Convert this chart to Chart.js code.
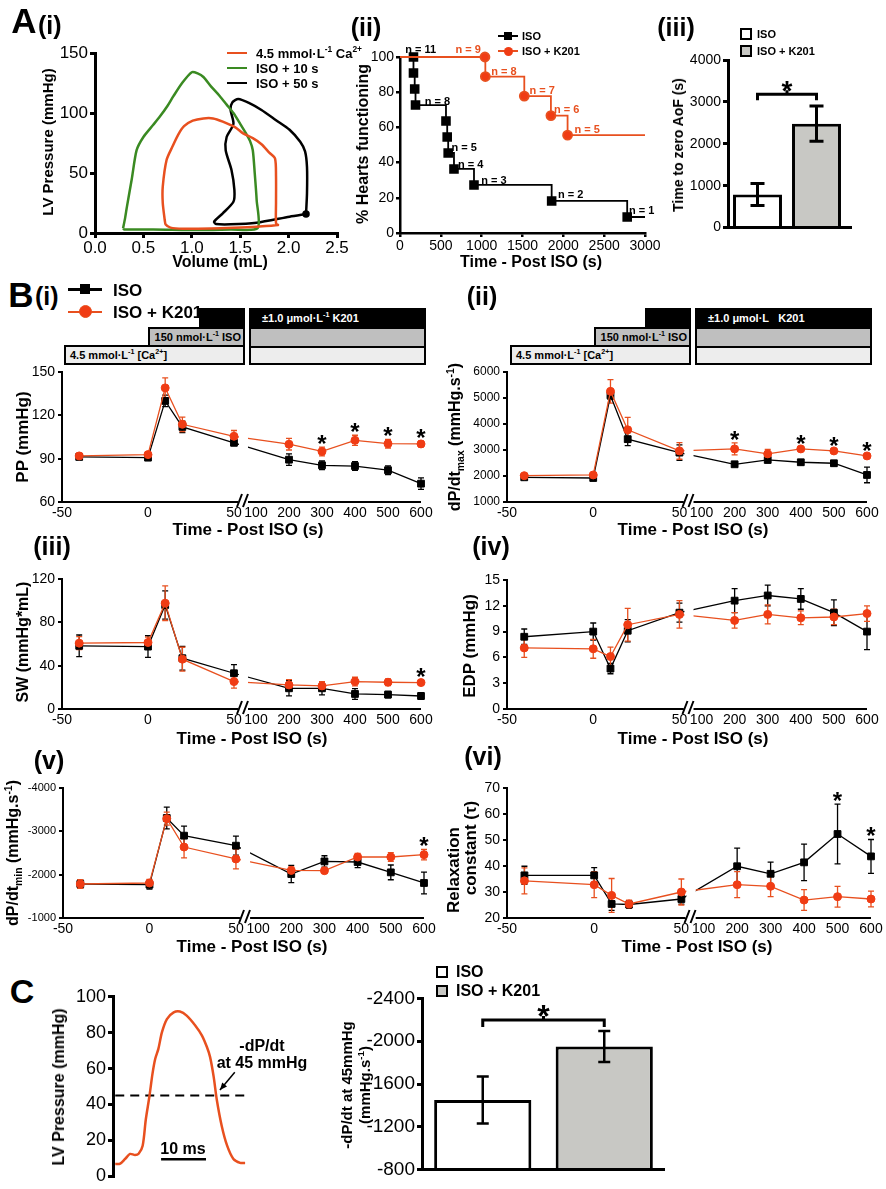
<!DOCTYPE html>
<html>
<head>
<meta charset="utf-8">
<script src="https://cdn.jsdelivr.net/npm/chart.js@4.4.1/dist/chart.umd.min.js"></script>
<style>
body{margin:0;background:#fff;}
#page{position:relative;width:886px;height:1189px;overflow:hidden;background:#fff;font-family:"Liberation Sans",Arial,sans-serif;color:#000;}
#page canvas{position:absolute;}
.t{position:absolute;font-weight:bold;white-space:nowrap;line-height:1;}
.box{position:absolute;box-sizing:border-box;border:2px solid #000;font-weight:bold;font-size:11px;line-height:1;white-space:nowrap;display:flex;align-items:center;}
.sw{position:absolute;box-sizing:border-box;}
sup,sub{font-size:65%;line-height:0;}
</style>
</head>
<body>
<div id="page"></div>
<script>
const FONT = '"Liberation Sans", Arial, sans-serif';
const RED = '#e8501f', RED_PT = '#f03c14', GREEN = '#3a8a22', GREY = '#c8c8c4';

// ---- A(i) pressure-volume loops (mL, mmHg)
const LOOP_CA_VOL = [0.72,0.70,0.70,0.74,0.80,0.86,0.92,1.01,1.12,1.22,1.32,1.45,1.53,1.63,1.72,1.80,1.86,1.87,1.87,1.87,1.89,1.67,1.43,1.20,0.91,0.78,0.73,0.72];
const LOOP_CA_P   = [11,25,38.6,61,72,82,89,93.6,95.5,95.5,92.8,88,83,79,74,67,62,47,25,8,6.7,5.3,4.4,3.8,3.6,4.5,7,11];
const LOOP_10_VOL = [0.29,0.31,0.33,0.38,0.43,0.50,0.60,0.67,0.75,0.81,0.90,1.00,1.06,1.12,1.20,1.29,1.36,1.43,1.50,1.56,1.60,1.63,1.65,1.67,1.68,1.40,1.08,0.60,0.30,0.29];
const LOOP_10_P   = [3.9,12,22,45,69,80,90,97,106,114,125,134,133,130,122,114,107,100,91,83,77,69,50,27.5,4,3,2.5,3,3,3.9];
const LOOP_50_VOL = [2.18,2.01,1.67,1.40,1.25,1.23,1.32,1.43,1.44,1.41,1.35,1.36,1.43,1.40,1.42,1.48,1.60,1.72,1.87,2.01,2.12,2.17,2.19,2.19,2.18];
const LOOP_50_P   = [15.8,13.6,8.6,7.2,7.5,9.4,16.4,26,36,52.5,69,80,91,103,109,111.7,108,102.5,94,86,76,68,55,33,15.8];

// ---- A(ii) Kaplan-Meier
const KM_ISO_T   = [0,165,165,180,190,563,578,590,661,906,1857,2782,3000];
const KM_ISO_PCT = [100,100,90.9,81.8,72.7,63.6,54.5,45.5,36.4,27.3,18.2,9.1,9.1];
const KM_K201_T   = [0,1040,1045,1522,1848,2052,3000];
const KM_K201_PCT = [100,100,88.9,77.8,66.7,55.6,55.6];
const KM_ISO_N    = ['n = 11','n = 8','n = 5','n = 4','n = 3','n = 2','n = 1'];
const KM_ISO_N_AT = [[253,104.5],[457,75.2],[787,48.7],[866,39.2],[1151,30.1],[2090,22.2],[2960,13.1]];
const KM_K201_N    = ['n = 9','n = 8','n = 7','n = 6','n = 5'];
const KM_K201_N_AT = [[836,104.5],[1273,92],[1742,81.3],[2041,70.5],[2293,58.9]];

// ---- A(iii) time to zero aortic flow
const GROUPS = ['ISO', 'ISO + K201'];
const AOF_MEAN = [790, 2480];
const AOF_SEM = [260, 420];

// ---- B time courses
const TIME = [-40, 0, 10, 20, 50, 200, 300, 400, 500, 600];
const X_TICKS = [-50, 0, 50, 100, 200, 300, 400, 500, 600];

const PP_ISO = [91.2, 90.7, 130, 112, 101, 89.3, 85.4, 84.9, 82, 72.7];
const PP_ISO_SEM = [1.5, 1.5, 4, 4, 2, 4, 3, 3, 3, 4];
const PP_K201 = [91.9, 92.8, 139, 113.8, 105.5, 100, 95, 102.7, 100.4, 100.2];
const PP_K201_SEM = [2, 2, 7, 5, 4, 4, 3, 3.5, 3, 2];
const PP_SIG = [300, 400, 500, 600];

const DPMAX_ISO = [1950, 1923, 5100, 3417, 2900, 2450, 2617, 2528, 2490, 2040];
const DPMAX_ISO_SEM = [60, 60, 150, 250, 300, 80, 100, 100, 100, 300];
const DPMAX_K201 = [2012, 2040, 5255, 3776, 2965, 3042, 2850, 3042, 2965, 2772];
const DPMAX_K201_SEM = [60, 60, 450, 480, 320, 230, 170, 80, 80, 80];
const DPMAX_SIG = [200, 400, 500, 600];

const SW_ISO = [58.3, 57.6, 96, 46.9, 33, 19.1, 19.1, 13.9, 13.3, 12];
const SW_ISO_SEM = [10, 10, 13, 11, 8, 7, 6, 5, 3, 3];
const SW_K201 = [60.8, 61.4, 97.7, 46, 25.3, 22.2, 21.3, 25.3, 24.7, 24.4];
const SW_K201_SEM = [6, 5, 16, 11, 6, 5, 4, 4, 3, 2];
const SW_SIG = [600];

const EDP_ISO = [8.4, 9.0, 4.7, 9.1, 11.2, 12.6, 13.2, 12.8, 11.2, 9.0];
const EDP_ISO_SEM = [0.9, 1.0, 0.6, 1.3, 1.1, 1.4, 1.2, 1.2, 1.5, 2.1];
const EDP_K201 = [7.1, 7.0, 6.1, 9.8, 11.0, 10.3, 11.0, 10.6, 10.7, 11.1];
const EDP_K201_SEM = [1.1, 1.1, 1.1, 1.9, 1.6, 0.9, 1.1, 0.8, 0.9, 0.9];

const DPMIN_ISO = [-1785, -1769, -3308, -2900, -2669, -2015, -2306, -2292, -2053, -1808];
const DPMIN_ISO_SEM = [100, 100, 250, 220, 220, 200, 130, 130, 170, 250];
const DPMIN_K201 = [-1785, -1808, -3292, -2638, -2362, -2099, -2092, -2408, -2408, -2461];
const DPMIN_K201_SEM = [100, 80, 150, 250, 230, 80, 50, 80, 100, 120];
const DPMIN_SIG = [600];

const TAU_ISO = [36.4, 36.4, 25.4, 25.2, 27.3, 39.9, 37, 41.4, 52.3, 43.7];
const TAU_ISO_SEM = [3.5, 3, 2.5, 1.5, 2, 7, 4.5, 7, 11.5, 6.5];
const TAU_K201 = [34.3, 32.8, 28.7, 25.4, 30, 32.8, 32.2, 26.9, 28.2, 27.3];
const TAU_K201_SEM = [5, 5, 6.5, 1.5, 5, 5, 4, 4, 4, 3];
const TAU_SIG = [500, 600];

// ---- C
const C_MS   = [0,1.1,2.2,3.3,4.4,5.2,6.1,6.8,7.6,8.3,8.9,9.6,10.4,11.5,13,14.4,15.9,17.8,19.3,20.4,21.1,21.9,22.6,23.7,24.9,26.3,27.8,28.9];
const C_MMHG = [6.8,7.0,9.6,12.4,11.8,12.5,17,31.6,44.4,57.3,65.5,71,80.3,87.6,91.3,91.8,89.5,84,78.4,72,66.5,55.5,42.6,28,17,9.6,7.4,7.4];
const THRESHOLD = 45;
const DPDT45_MEAN = [-1450, -1950];
const DPDT45_SEM = [220, 145];

Chart.defaults.font.family = FONT;
Chart.defaults.color = '#000';
Chart.defaults.animation = false;
Chart.defaults.responsive = false;
Chart.defaults.plugins.legend.display = false;
Chart.defaults.plugins.tooltip.enabled = false;

const page = document.getElementById('page');

// broken time axis: -50..50 linear, then 100..600 compressed
const GAP = 12.8, RS = 0.1919;
function u(t) { return t <= 50 ? t : 50 + GAP + (t - 100) * RS; }

function txt(html, x, y, fs, o = {}) {
  const d = document.createElement('div');
  d.className = 't';
  d.innerHTML = html;
  d.style.fontSize = fs + 'px';
  d.style.left = x + 'px';
  d.style.top = y + 'px';
  const ax = o.align === 'left' ? '0' : o.align === 'right' ? '-100%' : '-50%';
  d.style.transform = `translate(${ax},-50%)` + (o.rot ? ' rotate(-90deg)' : '');
  if (o.color) d.style.color = o.color;
  page.appendChild(d);
}

function place(area, pad) {
  const c = document.createElement('canvas');
  c.width = area.r - area.l + pad.l + pad.r;
  c.height = area.b - area.t + pad.t + pad.b;
  c.style.left = (area.l - pad.l) + 'px';
  c.style.top = (area.t - pad.t) + 'px';
  page.appendChild(c);
  return c;
}

function axis(o) {
  return {
    type: 'linear', min: o.min, max: o.max, reverse: !!o.reverse,
    afterFit: s => { if (s.isHorizontal()) s.height = o.size; else s.width = o.size; },
    border: {display: o.border !== false, color: '#000', width: o.bw || 2},
    grid: {display: !!o.tick, drawOnChartArea: false, drawTicks: !!o.tick, tickLength: o.tick || 0, color: '#000', lineWidth: o.bw || 2},
    ticks: {display: o.labels !== false, font: {size: o.fs, family: FONT}, color: '#000',
      padding: o.pad == null ? 3 : o.pad, stepSize: o.step, autoSkip: false, maxRotation: 0,
      callback: o.cb || (v => String(v))}
  };
}

function drawErr(chart) {
  const ctx = chart.ctx;
  chart.data.datasets.forEach((ds, di) => {
    if (!ds.err) return;
    const meta = chart.getDatasetMeta(di);
    const ys = chart.scales[meta.yAxisID];
    ctx.save();
    ctx.strokeStyle = ds.errColor || '#000';
    ctx.lineWidth = ds.errWidth || 1.3;
    meta.data.forEach((el, i) => {
      const d = ds.data[i];
      const v = typeof d === 'object' ? d.y : d;
      const e = ds.err[i];
      const y1 = ys.getPixelForValue(v + e), y2 = ys.getPixelForValue(v - e);
      const w = ds.capW || 3;
      ctx.beginPath();
      ctx.moveTo(el.x, y1); ctx.lineTo(el.x, y2);
      ctx.moveTo(el.x - w, y1); ctx.lineTo(el.x + w, y1);
      ctx.moveTo(el.x - w, y2); ctx.lineTo(el.x + w, y2);
      ctx.stroke();
    });
    ctx.restore();
  });
}
Chart.register({
  id: 'errorBars',
  beforeDatasetsDraw(chart) { if (chart.config.type !== 'bar') drawErr(chart); },
  afterDatasetsDraw(chart) { if (chart.config.type === 'bar') drawErr(chart); }
});

const brokenAxis = {
  id: 'brokenAxis',
  afterDatasetsDraw(chart) {
    const {ctx, chartArea: a, scales: {x}} = chart;
    const g0 = x.getPixelForValue(u(50)) + 4, g1 = x.getPixelForValue(u(100)) - 8;
    ctx.save();
    ctx.fillStyle = '#fff';
    ctx.fillRect(g0 + 1, a.top - 24, g1 - g0 - 1, a.bottom - a.top + 24);
    ctx.strokeStyle = '#000';
    ctx.lineWidth = 2;
    ctx.beginPath();
    ctx.moveTo(a.left, a.bottom); ctx.lineTo(g0, a.bottom);
    ctx.moveTo(g1, a.bottom); ctx.lineTo(a.right, a.bottom);
    const m = (g0 + g1) / 2;
    ctx.moveTo(m - 6, a.bottom + 5); ctx.lineTo(m - 1, a.bottom - 8);
    ctx.moveTo(m, a.bottom + 5); ctx.lineTo(m + 5, a.bottom - 8);
    ctx.stroke();
    ctx.restore();
  }
};

function starPlugin(dsIndex, times, fs, gap) {
  return {
    id: 'stars',
    afterDatasetsDraw(chart) {
      const ctx = chart.ctx, ds = chart.data.datasets[dsIndex], meta = chart.getDatasetMeta(dsIndex);
      const ys = chart.scales.y;
      ctx.save();
      ctx.fillStyle = '#000';
      ctx.font = `bold ${fs}px ${FONT}`;
      ctx.textAlign = 'center';
      times.forEach(t => {
        const i = TIME.indexOf(t);
        const v = ds.data[i].y, e = ds.err[i];
        const top = Math.min(ys.getPixelForValue(v + e), ys.getPixelForValue(v - e));
        ctx.fillText('*', meta.data[i].x, top - gap + 0.58 * fs);
      });
      ctx.restore();
    }
  };
}

function bPanel(area, yo, iso, isoSem, k201, k201Sem, sig, sigDs) {
  const pad = {l: 60, t: 24, r: 16, b: 26};
  const series = (vals, sem, line, fill, style, r, order) => ({
    data: TIME.map((t, i) => ({x: u(t), y: vals[i]})),
    err: sem, errColor: line, errWidth: 1.3, capW: 3,
    borderColor: line, borderWidth: 1.3, backgroundColor: fill,
    pointStyle: style, pointRadius: r, pointBackgroundColor: fill, pointBorderColor: fill, pointBorderWidth: 1,
    order, clip: false
  });
  const x = axis({min: -50, max: u(600), size: pad.b, fs: 14, border: false, pad: 3});
  x.afterBuildTicks = s => { s.ticks = X_TICKS.map(t => ({value: u(t)})); };
  x.ticks.callback = (v, i) => String(X_TICKS[i]);
  const plugins = [brokenAxis];
  if (sig) plugins.push(starPlugin(sigDs, sig, 24, 9));
  return new Chart(place(area, pad), {
    type: 'line',
    data: {datasets: [
      series(iso, isoSem, '#000', '#000', 'rect', 4.8, 1),
      series(k201, k201Sem, RED, RED_PT, 'circle', 4, 0)
    ]},
    options: {
      layout: {padding: {left: 0, top: pad.t, right: pad.r, bottom: 0}},
      scales: {x, y: axis(Object.assign({size: pad.l, fs: 14, tick: 4, bw: 2}, yo))}
    },
    plugins
  });
}

function barPanel(area, pad, mean, sem, yo, bp, level, drop, starFs, starGap, ext, errW, capW) {
  const x = {type: 'category', afterFit: s => { s.height = pad.b; }, border: {display: false}, grid: {display: false}, ticks: {display: false}};
  const bracket = {
    id: 'bracket',
    afterDatasetsDraw(chart) {
      const {ctx, chartArea: a} = chart;
      const meta = chart.getDatasetMeta(0);
      const y = chart.scales.y.getPixelForValue(level);
      const x0 = meta.data[0].x, x1 = meta.data[1].x, m = (x0 + x1) / 2;
      ctx.save();
      ctx.strokeStyle = '#000';
      ctx.lineWidth = 3;
      ctx.beginPath();
      ctx.moveTo(a.left - 1, a.bottom); ctx.lineTo(a.right + ext, a.bottom);
      ctx.moveTo(x0, y + drop); ctx.lineTo(x0, y); ctx.lineTo(x1, y); ctx.lineTo(x1, y + drop);
      ctx.moveTo(m, y); ctx.lineTo(m, y - 4);
      ctx.stroke();
      ctx.fillStyle = '#000';
      ctx.font = `bold ${starFs}px ${FONT}`;
      ctx.textAlign = 'center';
      ctx.fillText('*', m, y - starGap + 0.58 * starFs);
      ctx.restore();
    }
  };
  return new Chart(place(area, pad), {
    type: 'bar',
    data: {labels: GROUPS, datasets: [{
      data: mean, err: sem, errColor: '#000', errWidth: errW, capW,
      backgroundColor: ['#fff', GREY], borderColor: '#000', borderWidth: 3,
      barPercentage: bp, categoryPercentage: 1
    }]},
    options: {
      layout: {padding: {left: 0, top: pad.t, right: pad.r, bottom: 0}},
      scales: {x, y: axis(Object.assign({size: pad.l, tick: 5, bw: 3}, yo))}
    },
    plugins: [bracket]
  });
}

// ================= A(i)
const loopDs = (vx, vy, color, dot) => ({
  data: vx.map((v, i) => ({x: v, y: vy[i]})),
  showLine: true, borderColor: color, backgroundColor: color, borderWidth: 2.5, tension: 0.25,
  pointRadius: ctx => (dot && ctx.dataIndex === 0 ? 2.5 : 0), clip: false
});
{
  const pad = {l: 60, t: 14, r: 20, b: 30};
  new Chart(place({l: 95, t: 53, r: 337, b: 233}, pad), {
    type: 'scatter',
    data: {datasets: [
      loopDs(LOOP_CA_VOL, LOOP_CA_P, RED),
      loopDs(LOOP_10_VOL, LOOP_10_P, GREEN),
      loopDs(LOOP_50_VOL, LOOP_50_P, '#000', true)
    ]},
    options: {
      layout: {padding: {left: 0, top: pad.t, right: pad.r, bottom: 0}},
      scales: {
        x: axis({min: 0, max: 2.5, step: 0.5, size: pad.b, fs: 17, tick: 5, bw: 3, pad: 0, cb: v => v.toFixed(1)}),
        y: axis({min: 0, max: 150, step: 50, size: pad.l, fs: 17, tick: 5, bw: 3, pad: 2})
      }
    }
  });
}

// ================= A(ii)
let kmChart;
{
  const pad = {l: 50, t: 14, r: 20, b: 26};
  const km = (T, P, color, style, r, order) => ({
    data: T.map((t, i) => ({x: t, y: P[i]})),
    stepped: true, borderColor: color, borderWidth: 1.8,
    pointStyle: style, pointRadius: T.map((t, i) => (i === 0 || i === T.length - 1 ? 0 : r)),
    pointBackgroundColor: color === '#000' ? '#000' : RED_PT, pointBorderColor: color, order, clip: false
  });
  kmChart = new Chart(place({l: 400, t: 57, r: 645, b: 233}, pad), {
    type: 'line',
    data: {datasets: [
      km(KM_ISO_T, KM_ISO_PCT, '#000', 'rect', 5.5, 1),
      km(KM_K201_T, KM_K201_PCT, RED, 'circle', 4.5, 0)
    ]},
    options: {
      layout: {padding: {left: 0, top: pad.t, right: pad.r, bottom: 0}},
      scales: {
        x: axis({min: 0, max: 3000, step: 500, size: pad.b, fs: 14, tick: 4, bw: 2.5, pad: 1}),
        y: axis({min: 0, max: 100, step: 20, size: pad.l, fs: 14, tick: 4, bw: 2.5, pad: 2})
      }
    }
  });
  const ox = 400 - pad.l, oy = 57 - pad.t;
  const lab = (labels, at, color) => labels.forEach((s, i) => {
    txt(s, ox + kmChart.scales.x.getPixelForValue(at[i][0]), oy + kmChart.scales.y.getPixelForValue(at[i][1]), 11, {color});
  });
  lab(KM_ISO_N, KM_ISO_N_AT, '#000');
  lab(KM_K201_N, KM_K201_N_AT, RED);
}

// ================= A(iii)
barPanel({l: 728, t: 60, r: 846, b: 232}, {l: 55, t: 14, r: 14, b: 6}, AOF_MEAN, AOF_SEM,
  {min: 0, max: 4000, step: 1000, fs: 14, pad: 2}, 0.83, 3185, 6, 28, 10, 6, 3, 7);

// ================= B
bPanel({l: 62, t: 372, r: 421, b: 502}, {min: 60, max: 150, step: 30}, PP_ISO, PP_ISO_SEM, PP_K201, PP_K201_SEM, PP_SIG, 1);
bPanel({l: 507, t: 372, r: 867, b: 502}, {min: 1000, max: 6000, step: 1000, fs: 12}, DPMAX_ISO, DPMAX_ISO_SEM, DPMAX_K201, DPMAX_K201_SEM, DPMAX_SIG, 1);
bPanel({l: 62, t: 579, r: 421, b: 709}, {min: 0, max: 120, step: 40}, SW_ISO, SW_ISO_SEM, SW_K201, SW_K201_SEM, SW_SIG, 1);
bPanel({l: 507, t: 580, r: 867, b: 709}, {min: 0, max: 15, step: 3}, EDP_ISO, EDP_ISO_SEM, EDP_K201, EDP_K201_SEM, null, 1);
bPanel({l: 63, t: 788, r: 424, b: 918}, {min: -4000, max: -1000, step: 1000, reverse: true, fs: 11}, DPMIN_ISO, DPMIN_ISO_SEM, DPMIN_K201, DPMIN_K201_SEM, DPMIN_SIG, 1);
bPanel({l: 507, t: 788, r: 871, b: 918}, {min: 20, max: 70, step: 10}, TAU_ISO, TAU_ISO_SEM, TAU_K201, TAU_K201_SEM, TAU_SIG, 0);

// ================= C left: pressure trace
{
  const pad = {l: 60, t: 12, r: 10, b: 12};
  const notes = {
    id: 'notes',
    afterDatasetsDraw(chart) {
      const {ctx, scales: {x, y}} = chart;
      ctx.save();
      ctx.strokeStyle = '#000';
      ctx.fillStyle = '#000';
      ctx.lineWidth = 1.5;
      const ax0 = x.getPixelForValue(26.6), ay0 = y.getPixelForValue(58);
      const ax1 = x.getPixelForValue(23.3), ay1 = y.getPixelForValue(48);
      ctx.beginPath(); ctx.moveTo(ax0, ay0); ctx.lineTo(ax1, ay1); ctx.stroke();
      const ang = Math.atan2(ay1 - ay0, ax1 - ax0);
      ctx.beginPath();
      ctx.moveTo(ax1, ay1);
      ctx.lineTo(ax1 - 8 * Math.cos(ang - 0.4), ay1 - 8 * Math.sin(ang - 0.4));
      ctx.lineTo(ax1 - 8 * Math.cos(ang + 0.4), ay1 - 8 * Math.sin(ang + 0.4));
      ctx.closePath(); ctx.fill();
      // 10 ms scale bar
      ctx.lineWidth = 2.5;
      const sy = y.getPixelForValue(9.4);
      ctx.beginPath(); ctx.moveTo(x.getPixelForValue(10.2), sy); ctx.lineTo(x.getPixelForValue(20.2), sy); ctx.stroke();
      ctx.restore();
    }
  };
  const xs = axis({min: -0.5, max: 29.1, size: pad.b, fs: 12, border: false, labels: false});
  new Chart(place({l: 113, t: 996, r: 246, b: 1177}, pad), {
    type: 'line',
    data: {datasets: [
      {data: C_MS.map((t, i) => ({x: t, y: C_MMHG[i]})), borderColor: RED, borderWidth: 2.5, pointRadius: 0, tension: 0.3, clip: false},
      {data: [{x: C_MS[0], y: THRESHOLD}, {x: C_MS[C_MS.length - 1], y: THRESHOLD}], borderColor: '#000', borderWidth: 2, borderDash: [9, 6], pointRadius: 0}
    ]},
    options: {
      layout: {padding: {left: 0, top: pad.t, right: pad.r, bottom: 0}},
      scales: {x: xs, y: axis({min: 0, max: 100, step: 20, size: pad.l, fs: 18, tick: 5, bw: 3, pad: 2})}
    },
    plugins: [notes]
  });
}

// ================= C right
barPanel({l: 422, t: 997, r: 665, b: 1177}, {l: 70, t: 12, r: 12, b: 6}, DPDT45_MEAN, DPDT45_SEM,
  {min: -2400, max: -800, step: 400, reverse: true, fs: 19, pad: 2}, 0.8, -2197, 7, 32, 12, 0, 2.5, 6);

// ================= text, legends, boxes
function box(l, t, w, h, bg, html, o = {}) {
  const d = document.createElement('div');
  d.className = 'box';
  Object.assign(d.style, {left: l + 'px', top: t + 'px', width: w + 'px', height: h + 'px', background: bg,
    color: o.color || '#000', justifyContent: o.right ? 'flex-end' : 'flex-start',
    paddingLeft: (o.pl || 0) + 'px', paddingRight: (o.pr || 0) + 'px'});
  if (html) d.innerHTML = '<span>' + html + '</span>';
  page.appendChild(d);
}
function sw(l, t, w, h, bg, extra = {}) {
  const d = document.createElement('div');
  d.className = 'sw';
  Object.assign(d.style, {left: l + 'px', top: t + 'px', width: w + 'px', height: h + 'px', background: bg}, extra);
  page.appendChild(d);
}
function treatment(dx, kText) {
  box(148 + dx, 327, 97, 20, '#bfbfbf', '150 nmol·L<sup>-1</sup> ISO', {right: true, pr: 2});
  box(64 + dx, 345, 181, 20, '#ededed', '4.5 mmol·L<sup>-1</sup> [Ca<sup>2+</sup>]', {pl: 4});
  sw(199 + dx, 308, 46, 21, '#000');
  box(249 + dx, 308, 177, 21, '#000', kText, {color: '#fff', pl: 11});
  box(249 + dx, 327, 177, 21, '#bfbfbf');
  box(249 + dx, 346, 177, 19, '#ededed');
}
treatment(0, '±1.0 μmol·L<sup>-1</sup> K201');
treatment(446, '±1.0 μmol·L&nbsp;&nbsp; K201');

// panel labels
txt('A', 24, 20, 35);
txt('(i)', 38, 25, 25, {align: 'left'});
txt('(ii)', 366, 27, 25);
txt('(iii)', 676, 27, 25);
txt('B', 21, 294, 35);
txt('(i)', 35, 296, 25, {align: 'left'});
txt('(ii)', 482, 296, 25);
txt('(iii)', 52, 546, 25);
txt('(iv)', 491, 546, 25);
txt('(v)', 49, 760, 25);
txt('(vi)', 483, 756, 25);
txt('C', 22, 991, 34);

// axis titles
txt('LV Pressure (mmHg)', 47, 142, 15, {rot: true});
txt('Volume (mL)', 220, 262, 16);
txt('% Hearts functioning', 363, 144, 16, {rot: true});
txt('Time - Post ISO (s)', 531, 262, 16);
txt('Time to zero AoF (s)', 678, 145, 14, {rot: true});
txt('PP (mmHg)', 22, 437, 17, {rot: true});
txt('dP/dt<sub>max</sub> (mmHg.s<sup>-1</sup>)', 455, 437, 16, {rot: true});
txt('SW (mmHg*mL)', 23, 642, 16, {rot: true});
txt('EDP (mmHg)', 469, 646, 17, {rot: true});
txt('dP/dt<sub>min</sub> (mmHg.s<sup>-1</sup>)', 13, 853, 16, {rot: true});
txt('Relaxation', 453, 870, 17, {rot: true});
txt('constant (τ)', 470, 848, 17, {rot: true});
[[248, 529], [693, 529], [252, 738], [693, 738], [252, 946], [697, 946]].forEach(p => txt('Time - Post ISO (s)', p[0], p[1], 17));
txt('LV Pressure (mmHg)', 59, 1087, 16, {rot: true});
txt('-dP/dt at 45mmHg', 346, 1085, 15, {rot: true});
txt('(mmHg.s<sup>-1</sup>)', 364, 1085, 15, {rot: true});
txt('-dP/dt', 262, 1046, 16);
txt('at 45 mmHg', 262, 1063, 16);
txt('10 ms', 183, 1149, 16);

// A(i) legend
[[RED, '4.5 mmol·L<sup>-1</sup> Ca<sup>2+</sup>', 53], [GREEN, 'ISO + 10 s', 68], ['#000', 'ISO + 50 s', 83]].forEach(([c, s, y]) => {
  sw(227, y - 1.25, 20, 2.5, c);
  txt(s, 256, y, 13, {align: 'left'});
});
// A(ii) legend
sw(498, 35, 20, 2, '#000'); sw(504, 32, 8, 8, '#000');
sw(498, 50, 20, 2, RED); sw(503.5, 46.5, 9, 9, RED_PT, {borderRadius: '50%'});
txt('ISO', 522, 36, 11, {align: 'left'});
txt('ISO + K201', 522, 51, 11, {align: 'left'});
// A(iii) legend
sw(740, 28, 12, 12, '#fff', {border: '2px solid #000'});
sw(740, 45, 12, 12, GREY, {border: '2px solid #000'});
txt('ISO', 757, 34, 11, {align: 'left'});
txt('ISO + K201', 757, 51, 11, {align: 'left'});
// B legend
sw(68, 288, 34, 2.5, '#000'); sw(80, 284, 10, 10, '#000');
sw(68, 310.5, 34, 2.5, RED); sw(78.5, 305, 13, 13, RED_PT, {borderRadius: '50%', border: '1px solid ' + RED});
txt('ISO', 113, 290, 17, {align: 'left'});
txt('ISO + K201', 113, 312, 17, {align: 'left'});
// C legend
sw(436, 966, 12, 12, '#fff', {border: '2.5px solid #000'});
sw(436, 985, 12, 12, GREY, {border: '2.5px solid #000'});
txt('ISO', 456, 972, 16, {align: 'left'});
txt('ISO + K201', 456, 991, 16, {align: 'left'});
</script>
</body>
</html>
